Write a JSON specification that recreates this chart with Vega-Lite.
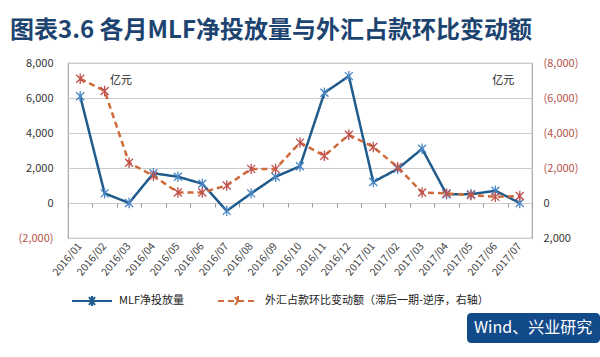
{
  "$schema": "https://vega.github.io/schema/vega-lite/v6.json",
  "width": 464,
  "height": 175,
  "autosize": {"type": "none"},
  "padding": {"left": 68, "top": 63, "right": 68, "bottom": 119},
  "background": "white",
  "title": {
    "text": "图表3.6  各月MLF净投放量与外汇占款环比变动额",
    "anchor": "start",
    "frame": "group",
    "dx": -58,
    "offset": 14,
    "fontSize": 24,
    "font": "Noto Sans CJK SC",
    "fontWeight": "bold",
    "color": "#1d4470"
  },
  "datasets": {
    "series": [
      {"month": "2016/01", "series": "MLF净投放量", "value": 6100},
      {"month": "2016/02", "series": "MLF净投放量", "value": 550},
      {"month": "2016/03", "series": "MLF净投放量", "value": 0},
      {"month": "2016/04", "series": "MLF净投放量", "value": 1700},
      {"month": "2016/05", "series": "MLF净投放量", "value": 1500},
      {"month": "2016/06", "series": "MLF净投放量", "value": 1100},
      {"month": "2016/07", "series": "MLF净投放量", "value": -450},
      {"month": "2016/08", "series": "MLF净投放量", "value": 550},
      {"month": "2016/09", "series": "MLF净投放量", "value": 1500},
      {"month": "2016/10", "series": "MLF净投放量", "value": 2100},
      {"month": "2016/11", "series": "MLF净投放量", "value": 6300},
      {"month": "2016/12", "series": "MLF净投放量", "value": 7250},
      {"month": "2017/01", "series": "MLF净投放量", "value": 1200},
      {"month": "2017/02", "series": "MLF净投放量", "value": 1950},
      {"month": "2017/03", "series": "MLF净投放量", "value": 3100},
      {"month": "2017/04", "series": "MLF净投放量", "value": 500},
      {"month": "2017/05", "series": "MLF净投放量", "value": 500},
      {"month": "2017/06", "series": "MLF净投放量", "value": 700},
      {"month": "2017/07", "series": "MLF净投放量", "value": 0},
      {"month": "2016/01", "series": "外汇占款环比变动额（滞后一期-逆序，右轴）", "value": -7100},
      {"month": "2016/02", "series": "外汇占款环比变动额（滞后一期-逆序，右轴）", "value": -6400},
      {"month": "2016/03", "series": "外汇占款环比变动额（滞后一期-逆序，右轴）", "value": -2300},
      {"month": "2016/04", "series": "外汇占款环比变动额（滞后一期-逆序，右轴）", "value": -1550},
      {"month": "2016/05", "series": "外汇占款环比变动额（滞后一期-逆序，右轴）", "value": -600},
      {"month": "2016/06", "series": "外汇占款环比变动额（滞后一期-逆序，右轴）", "value": -600},
      {"month": "2016/07", "series": "外汇占款环比变动额（滞后一期-逆序，右轴）", "value": -1000},
      {"month": "2016/08", "series": "外汇占款环比变动额（滞后一期-逆序，右轴）", "value": -1950},
      {"month": "2016/09", "series": "外汇占款环比变动额（滞后一期-逆序，右轴）", "value": -1950},
      {"month": "2016/10", "series": "外汇占款环比变动额（滞后一期-逆序，右轴）", "value": -3450},
      {"month": "2016/11", "series": "外汇占款环比变动额（滞后一期-逆序，右轴）", "value": -2700},
      {"month": "2016/12", "series": "外汇占款环比变动额（滞后一期-逆序，右轴）", "value": -3900},
      {"month": "2017/01", "series": "外汇占款环比变动额（滞后一期-逆序，右轴）", "value": -3200},
      {"month": "2017/02", "series": "外汇占款环比变动额（滞后一期-逆序，右轴）", "value": -2050},
      {"month": "2017/03", "series": "外汇占款环比变动额（滞后一期-逆序，右轴）", "value": -600},
      {"month": "2017/04", "series": "外汇占款环比变动额（滞后一期-逆序，右轴）", "value": -550},
      {"month": "2017/05", "series": "外汇占款环比变动额（滞后一期-逆序，右轴）", "value": -450},
      {"month": "2017/06", "series": "外汇占款环比变动额（滞后一期-逆序，右轴）", "value": -350},
      {"month": "2017/07", "series": "外汇占款环比变动额（滞后一期-逆序，右轴）", "value": -400}
    ]
  },
  "config": {
    "view": {"stroke": "#a6a6a6", "strokeWidth": 1.2},
    "font": "Noto Sans CJK SC",
    "axis": {"labelFont": "Noto Sans CJK SC", "labelColor": "#333333"}
  },
  "layer": [
    {
      "data": {"name": "series"},
      "transform": [{"filter": "datum.series == 'MLF净投放量'"}],
      "encoding": {
        "x": {
          "field": "month", "type": "ordinal",
          "scale": {"type": "band", "paddingInner": 0, "paddingOuter": 0},
          "axis": {"title": null, "labelAngle": -50, "ticks": false, "domain": false, "grid": false, "labelFontSize": 10.5, "labelPadding": 6, "labelColor": "#444444"}
        },
        "y": {
          "field": "value", "type": "quantitative",
          "scale": {"domain": [-2000, 8000], "nice": false, "zero": false},
          "axis": {
            "title": null, "orient": "left", "values": [-2000, 0, 2000, 4000, 6000, 8000],
            "grid": true, "gridColor": "#cccccc", "domain": false, "ticks": false,
            "labelPadding": 15, "labelFontSize": 11,
            "labelExpr": "datum.value < 0 ? '(' + format(-datum.value, ',') + ')' : format(datum.value, ',')",
            "labelColor": {"condition": {"test": "datum.value < 0", "value": "#b5524a"}, "value": "#333333"}
          }
        }
      },
      "layer": [
        {
          "mark": {"type": "line", "strokeWidth": 2.5},
          "encoding": {
            "color": {
              "field": "series", "type": "nominal",
              "scale": {"domain": ["MLF净投放量", "外汇占款环比变动额（滞后一期-逆序，右轴）"], "range": ["#1f5b8c", "#cf6a3b"]},
              "legend": {"orient": "none", "legendX": 3, "legendY": 217, "direction": "horizontal", "title": null,
                "symbolType": "M-1,0H1M-0.15,-0.2L0.15,0.2M-0.15,0.2L0.15,-0.2M0,-0.25V0.25",
                "symbolSize": 1600, "symbolStrokeWidth": 2, "labelFontSize": 11, "labelColor": "#222222",
                "columnPadding": 30, "labelOffset": 6, "labelLimit": 400, "padding": 0}
            },
            "strokeDash": {
              "field": "series", "type": "nominal",
              "scale": {"domain": ["MLF净投放量", "外汇占款环比变动额（滞后一期-逆序，右轴）"], "range": [[1, 0], [6, 4]]},
              "legend": {"orient": "none", "legendX": 3, "legendY": 217, "direction": "horizontal", "title": null,
                "symbolType": "M-1,0H1M-0.15,-0.2L0.15,0.2M-0.15,0.2L0.15,-0.2M0,-0.25V0.25",
                "symbolSize": 1600, "symbolStrokeWidth": 2, "labelFontSize": 11, "labelColor": "#222222",
                "columnPadding": 30, "labelOffset": 6, "labelLimit": 400, "padding": 0}
            }
          }
        },
        {
          "mark": {"type": "point", "shape": "M-1,-1L1,1M-1,1L1,-1M0,-1.3V1.3", "filled": false, "size": 64, "strokeWidth": 1.3, "color": "#4a86c5", "opacity": 1}
        },
        {
          "data": {"values": [{"month": "2016/03", "v": 7000, "t": "亿元"}]},
          "transform": [],
          "mark": {"type": "text", "dx": -8, "fontSize": 11, "color": "#222222"},
          "encoding": {"y": {"field": "v", "type": "quantitative"}, "text": {"field": "t"}}
        },
        {
          "data": {"values": [{"month": "2017/06", "v": 7000, "t": "亿元"}]},
          "transform": [],
          "mark": {"type": "text", "dx": 8, "fontSize": 11, "color": "#222222"},
          "encoding": {"y": {"field": "v", "type": "quantitative"}, "text": {"field": "t"}}
        }
      ]
    },
    {
      "data": {"name": "series"},
      "transform": [{"filter": "datum.series != 'MLF净投放量'"}],
      "encoding": {
        "x": {
          "field": "month", "type": "ordinal",
          "axis": {"title": null, "orient": "bottom", "offset": -35, "labels": false, "ticks": true, "tickSize": 4, "tickColor": "#999999", "tickBand": "extent", "domain": false, "grid": false}
        },
        "y": {
          "field": "value", "type": "quantitative",
          "scale": {"domain": [-8000, 2000], "nice": false, "zero": false, "reverse": true},
          "axis": {
            "title": null, "orient": "right", "values": [-8000, -6000, -4000, -2000, 0, 2000],
            "grid": false, "domain": false, "ticks": false, "labelPadding": 11, "labelFontSize": 11,
            "labelExpr": "datum.value < 0 ? '(' + format(-datum.value, ',') + ')' : format(datum.value, ',')",
            "labelColor": {"condition": {"test": "datum.value < 0", "value": "#b5524a"}, "value": "#333333"}
          }
        }
      },
      "layer": [
        {
          "mark": {"type": "line", "strokeWidth": 2.5},
          "encoding": {
            "color": {"field": "series", "type": "nominal"},
            "strokeDash": {"field": "series", "type": "nominal"}
          }
        },
        {
          "mark": {"type": "point", "shape": "M-1,-1L1,1M-1,1L1,-1M0,-1.3V1.3", "filled": false, "size": 64, "strokeWidth": 1.3, "color": "#c0504d", "opacity": 1}
        }
      ]
    },
    {
      "data": {"values": [{"src": "Wind、兴业研究"}]},
      "mark": {"type": "point", "opacity": 0},
      "encoding": {
        "fill": {
          "field": "src", "type": "nominal",
          "scale": {"range": ["#124a8a"]},
          "legend": {"orient": "none", "legendX": 399, "legendY": 250, "title": null, "fillColor": "#124a8a",
            "symbolOpacity": 0, "symbolSize": 1, "symbolStrokeWidth": 0, "labelColor": "white", "labelFontSize": 16,
            "labelOffset": -16, "labelLimit": 300, "padding": 7, "cornerRadius": 4, "labelFont": "Noto Sans CJK SC"}
        }
      }
    }
  ],
  "resolve": {
    "scale": {"y": "independent"},
    "axis": {"y": "independent", "x": "independent"}
  }
}
